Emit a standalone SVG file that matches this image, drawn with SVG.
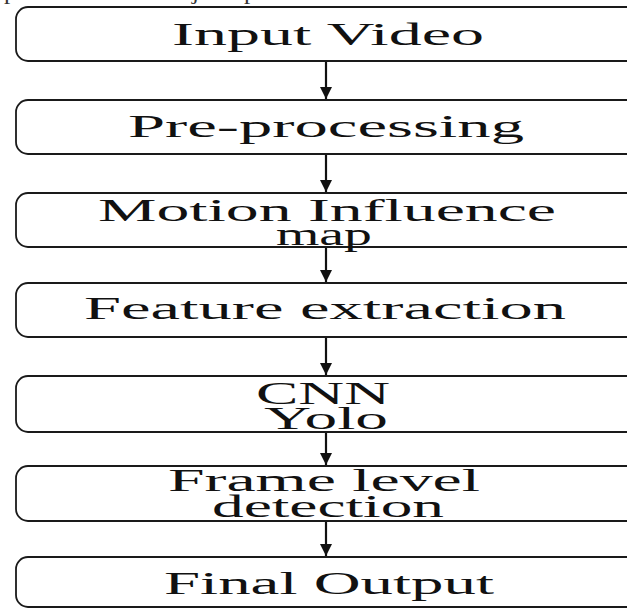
<svg xmlns="http://www.w3.org/2000/svg" width="627" height="608" viewBox="0 0 627 608">
  <defs>
    <style>
      .box { fill: #ffffff; stroke: #1a1a1a; stroke-width: 1.8; }
      .lbl { font-family: "Liberation Serif", "Times New Roman", serif; font-size: 32px; fill: #111111; }
      .top { font-family: "Liberation Serif", "Times New Roman", serif; font-size: 22px; fill: #333333; }
      .conn { stroke: #111111; stroke-width: 2.2; fill: none; }
    </style>
    <marker id="arrow" viewBox="0 0 12 12" refX="12" refY="6" markerWidth="12" markerHeight="12" markerUnits="userSpaceOnUse" orient="auto">
      <path d="M0,0 L12,6 L0,12 z" fill="#111111"/>
    </marker>
  </defs>
  <rect width="627" height="608" fill="#ffffff"/>
  <text class="top" x="4" y="-1" textLength="620" lengthAdjust="spacingAndGlyphs">place where the objects present in the frame are identified and</text>

  <g id="connectors">
    <line class="conn" x1="326" y1="61" x2="326" y2="99" marker-end="url(#arrow)"/>
    <line class="conn" x1="326" y1="154" x2="326" y2="192" marker-end="url(#arrow)"/>
    <line class="conn" x1="326" y1="247" x2="326" y2="282" marker-end="url(#arrow)"/>
    <line class="conn" x1="326" y1="337" x2="326" y2="375" marker-end="url(#arrow)"/>
    <line class="conn" x1="326" y1="432" x2="326" y2="465" marker-end="url(#arrow)"/>
    <line class="conn" x1="326" y1="521" x2="326" y2="556" marker-end="url(#arrow)"/>
  </g>

  <g id="input-video">
    <rect class="box" x="16" y="7" width="630" height="54" rx="12"/>
    <text class="lbl" x="172" y="45" textLength="312" lengthAdjust="spacingAndGlyphs">Input Video</text>
  </g>
  <g id="pre-processing">
    <rect class="box" x="16" y="100" width="630" height="54" rx="12"/>
    <text class="lbl" x="128" y="137" textLength="396" lengthAdjust="spacingAndGlyphs">Pre-processing</text>
  </g>
  <g id="motion-influence-map">
    <rect class="box" x="16" y="193" width="630" height="54" rx="12"/>
    <text class="lbl" x="98" y="221" textLength="458" lengthAdjust="spacingAndGlyphs">Motion Influence</text>
    <text class="lbl" x="276" y="245" textLength="96" lengthAdjust="spacingAndGlyphs">map</text>
  </g>
  <g id="feature-extraction">
    <rect class="box" x="16" y="283" width="630" height="54" rx="12"/>
    <text class="lbl" x="84" y="319" textLength="482" lengthAdjust="spacingAndGlyphs">Feature extraction</text>
  </g>
  <g id="cnn-yolo">
    <rect class="box" x="16" y="376" width="630" height="56" rx="12"/>
    <text class="lbl" x="256" y="404" textLength="134" lengthAdjust="spacingAndGlyphs">CNN</text>
    <text class="lbl" x="264" y="429" textLength="124" lengthAdjust="spacingAndGlyphs">Yolo</text>
  </g>
  <g id="frame-level-detection">
    <rect class="box" x="16" y="466" width="630" height="55" rx="12"/>
    <text class="lbl" x="168" y="491" textLength="312" lengthAdjust="spacingAndGlyphs">Frame level</text>
    <text class="lbl" x="212" y="517" textLength="232" lengthAdjust="spacingAndGlyphs">detection</text>
  </g>
  <g id="final-output">
    <rect class="box" x="16" y="557" width="630" height="50" rx="12"/>
    <text class="lbl" x="164" y="594" textLength="330" lengthAdjust="spacingAndGlyphs">Final Output</text>
  </g>
</svg>
